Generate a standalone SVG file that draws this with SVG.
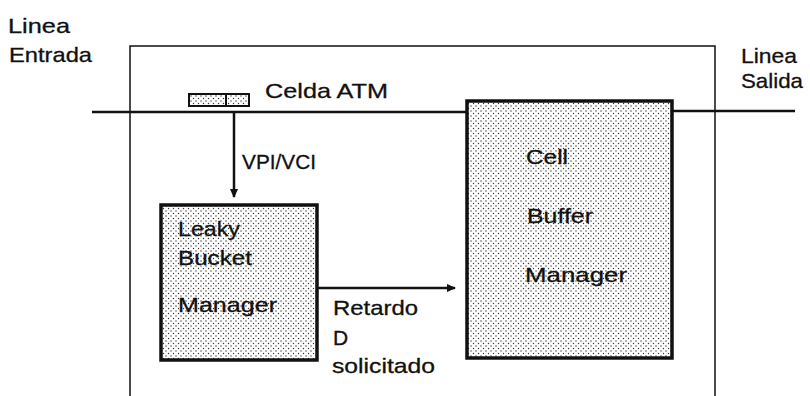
<svg xmlns="http://www.w3.org/2000/svg" width="810" height="396" viewBox="0 0 810 396">
<style>
text{font-family:"Liberation Sans",Arial,sans-serif;font-size:21px;fill:#111;stroke:#111;stroke-width:0.3}
.box{fill:url(#dots);stroke:#111;stroke-width:3.5}
.line{stroke:#111;stroke-width:2.5;fill:none}
.thin{stroke:#111;stroke-width:1.5;fill:none}
</style>
<defs>
<pattern id="dots" width="5" height="5" patternUnits="userSpaceOnUse">
<rect width="5" height="5" fill="#fff"/>
<circle cx="1" cy="1" r="0.7" fill="#333"/>
<circle cx="3.5" cy="3.5" r="0.7" fill="#333"/>
</pattern>
<marker id="arr" markerWidth="10" markerHeight="10" refX="8" refY="5" orient="auto" markerUnits="userSpaceOnUse">
<path d="M0,1 L9,5 L0,9 Z" fill="#111"/>
</marker>
</defs>
<g id="frame">
<path class="thin" d="M130,396 L130,46 L715,46 L715,396"/>
</g>
<g id="connectors">
<line class="line" x1="92" y1="112" x2="470" y2="112"/>
<line class="line" x1="672" y1="111" x2="795" y2="111"/>
<line class="line" x1="234" y1="112" x2="234" y2="197" marker-end="url(#arr)"/>
<line class="line" x1="317" y1="288" x2="455" y2="288" marker-end="url(#arr)"/>
</g>
<g id="cell-icon">
<rect x="189" y="94" width="60" height="12" fill="url(#dots)" stroke="#111" stroke-width="2"/>
<line x1="226" y1="94" x2="226" y2="106" stroke="#111" stroke-width="2"/>
</g>
<g id="labels">
<text x="8" y="33" textLength="62" lengthAdjust="spacingAndGlyphs">Linea</text>
<text x="9" y="62" textLength="83" lengthAdjust="spacingAndGlyphs">Entrada</text>
<text x="741" y="63" textLength="56" lengthAdjust="spacingAndGlyphs">Linea</text>
<text x="741" y="88" textLength="62" lengthAdjust="spacingAndGlyphs">Salida</text>
<text x="265" y="98" textLength="123" lengthAdjust="spacingAndGlyphs">Celda ATM</text>
<text x="242" y="169" textLength="74" lengthAdjust="spacingAndGlyphs">VPI/VCI</text>
<text x="333" y="315" textLength="85" lengthAdjust="spacingAndGlyphs">Retardo</text>
<text x="333" y="345">D</text>
<text x="332" y="373" textLength="103" lengthAdjust="spacingAndGlyphs">solicitado</text>
</g>
<g id="leaky-bucket">
<rect class="box" x="161" y="205" width="156" height="155"/>
<text x="178" y="236" textLength="62" lengthAdjust="spacingAndGlyphs">Leaky</text>
<text x="178" y="265" textLength="74" lengthAdjust="spacingAndGlyphs">Bucket</text>
<text x="178" y="312" textLength="99" lengthAdjust="spacingAndGlyphs">Manager</text>
</g>
<g id="cell-buffer">
<rect class="box" x="467" y="101" width="205" height="257"/>
<text x="526" y="164" textLength="42" lengthAdjust="spacingAndGlyphs">Cell</text>
<text x="527" y="223" textLength="66" lengthAdjust="spacingAndGlyphs">Buffer</text>
<text x="525" y="282" textLength="102" lengthAdjust="spacingAndGlyphs">Manager</text>
</g>
</svg>
